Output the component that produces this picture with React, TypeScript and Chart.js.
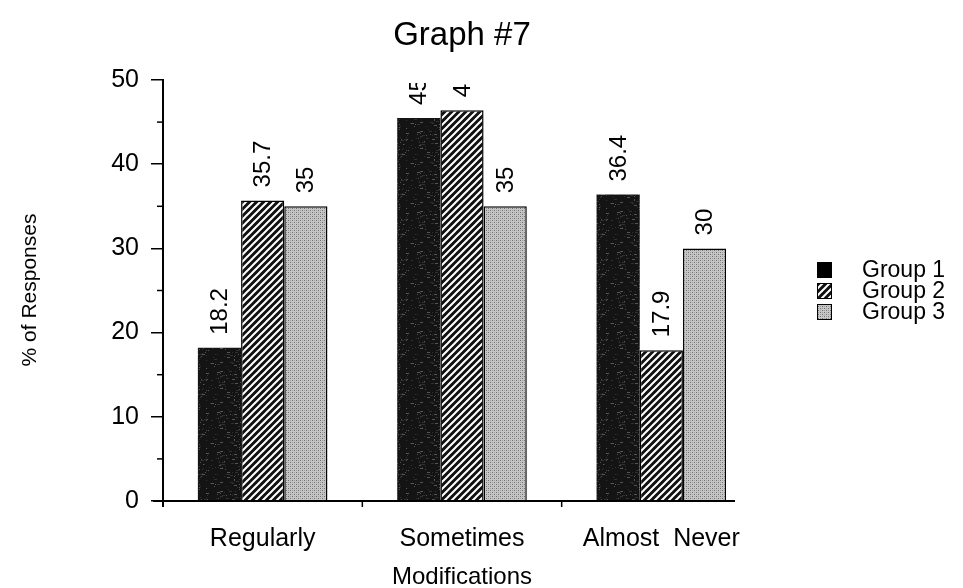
import React, { useEffect, useRef } from "react";
import { Chart, registerables } from "chart.js";

Chart.register(...registerables);

const FONT = "'Liberation Sans', Arial, Helvetica, sans-serif";

const chartTitle = "Graph #7";
const xAxisTitle = "Modifications";
const yAxisTitle = "% of Responses";
const categories = ["Regularly", "Sometimes", "Almost  Never"];
const seriesNames = ["Group 1", "Group 2", "Group 3"];
const group1 = [18.2, 45.5, 36.4];
const group2 = [35.7, 46.4, 17.9];
const group3 = [35, 35, 30];
const yTickValues = [0, 10, 20, 30, 40, 50];

// Fixed pseudo-random sequence for the speckled dark fill texture.
function lcg(seed: number) {
  let s = seed;
  return () => {
    s = (s * 1103515245 + 12345) & 0x7fffffff;
    return s / 0x7fffffff;
  };
}

function darkPattern(ctx: CanvasRenderingContext2D) {
  const c = document.createElement("canvas");
  c.width = 40;
  c.height = 40;
  const g = c.getContext("2d")!;
  g.fillStyle = "#141414";
  g.fillRect(0, 0, 40, 40);
  const rnd = lcg(11);
  for (let i = 0; i < 110; i++) {
    const x = Math.floor(rnd() * 40);
    const y = Math.floor(rnd() * 40);
    const w = rnd() < 0.3 ? 3 : 1;
    g.fillStyle = rnd() < 0.4 ? "#555" : "#303030";
    g.fillRect(x, y, w, 1);
  }
  return ctx.createPattern(c, "repeat")!;
}

function stripePattern(ctx: CanvasRenderingContext2D) {
  const n = 7;
  const c = document.createElement("canvas");
  c.width = n;
  c.height = n;
  const g = c.getContext("2d")!;
  g.fillStyle = "#111";
  g.fillRect(0, 0, n, n);
  g.strokeStyle = "#fff";
  g.lineWidth = 2;
  g.beginPath();
  g.moveTo(0, n);
  g.lineTo(n, 0);
  g.moveTo(-n / 2, n / 2);
  g.lineTo(n / 2, -n / 2);
  g.moveTo(n / 2, n + n / 2);
  g.lineTo(n + n / 2, n / 2);
  g.stroke();
  return ctx.createPattern(c, "repeat")!;
}

function stipplePattern(ctx: CanvasRenderingContext2D) {
  const c = document.createElement("canvas");
  c.width = 4;
  c.height = 4;
  const g = c.getContext("2d")!;
  g.fillStyle = "#c6c6c6";
  g.fillRect(0, 0, 4, 4);
  g.fillStyle = "#707070";
  g.fillRect(0, 0, 1, 1);
  g.fillRect(2, 2, 1, 1);
  g.fillStyle = "#a0a0a0";
  g.fillRect(2, 0, 1, 1);
  g.fillRect(0, 2, 1, 1);
  return ctx.createPattern(c, "repeat")!;
}

const decorations = {
  id: "decorations",
  afterDatasetsDraw(chart: any) {
    const { ctx, chartArea } = chart;
    // value labels, rotated, clipped just below the plot area top
    ctx.save();
    ctx.beginPath();
    ctx.rect(0, chartArea.top + 3, chart.width, chart.height - chartArea.top);
    ctx.clip();
    ctx.fillStyle = "#000";
    ctx.font = `24px ${FONT}`;
    ctx.textAlign = "left";
    ctx.textBaseline = "middle";
    chart.data.datasets.forEach((ds: any, di: number) => {
      const meta = chart.getDatasetMeta(di);
      meta.data.forEach((bar: any, i: number) => {
        ctx.save();
        ctx.translate(bar.x + 1, bar.y - 13);
        ctx.rotate(-Math.PI / 2);
        ctx.fillText(String(ds.data[i]), 0, 0);
        ctx.restore();
      });
    });
    ctx.restore();
  },
  afterDraw(chart: any) {
    const { ctx, chartArea } = chart;
    const yScale = chart.scales.y;
    const xScale = chart.scales.x;
    ctx.save();
    // x axis line (extends a little left of the y axis)
    ctx.strokeStyle = "#000";
    ctx.lineWidth = 2;
    ctx.beginPath();
    ctx.moveTo(chartArea.left - 10, chartArea.bottom);
    ctx.lineTo(chartArea.right - 26, chartArea.bottom);
    ctx.stroke();
    // y axis extends slightly below the x axis
    ctx.beginPath();
    ctx.moveTo(chartArea.left, chartArea.bottom);
    ctx.lineTo(chartArea.left, chartArea.bottom + 6);
    ctx.stroke();
    // category boundary ticks
    ctx.lineWidth = 1.5;
    for (let i = 1; i < categories.length; i++) {
      const x = (xScale.getPixelForValue(i - 1) + xScale.getPixelForValue(i)) / 2;
      ctx.beginPath();
      ctx.moveTo(x, chartArea.bottom);
      ctx.lineTo(x, chartArea.bottom + 6);
      ctx.stroke();
    }
    // minor ticks on the y axis
    for (let v = 5; v < 50; v += 10) {
      const y = yScale.getPixelForValue(v);
      ctx.beginPath();
      ctx.moveTo(chartArea.left - 6, y);
      ctx.lineTo(chartArea.left, y);
      ctx.stroke();
    }

    // title
    ctx.fillStyle = "#000";
    ctx.textAlign = "center";
    ctx.textBaseline = "middle";
    ctx.font = `33px ${FONT}`;
    ctx.fillText(chartTitle, (chartArea.left + chartArea.right) / 2, 36);

    // x axis title
    ctx.font = `24px ${FONT}`;
    ctx.fillText(xAxisTitle, (chartArea.left + chartArea.right) / 2, 577);

    // y axis title
    ctx.save();
    ctx.translate(30, 290);
    ctx.rotate(-Math.PI / 2);
    ctx.font = `21px ${FONT}`;
    ctx.fillText(yAxisTitle, 0, 0);
    ctx.restore();

    // legend
    const fills = chart.data.datasets.map((d: any) => d.backgroundColor);
    const legendX = chartArea.right + 56;
    const legendY = 270;
    ctx.font = `23px ${FONT}`;
    ctx.textAlign = "left";
    seriesNames.forEach((name, i) => {
      const cy = legendY + i * 21;
      ctx.fillStyle = i === 0 ? "#000" : fills[i];
      ctx.fillRect(legendX, cy - 8, 15, 16);
      ctx.strokeStyle = "#000";
      ctx.lineWidth = 1;
      ctx.strokeRect(legendX + 0.5, cy - 7.5, 14, 15);
      ctx.fillStyle = "#000";
      ctx.fillText(name, legendX + 45, cy + 1);
    });
    ctx.restore();
  },
};

export default function App() {
  const ref = useRef<HTMLCanvasElement | null>(null);

  useEffect(() => {
    const canvas = ref.current!;
    const ctx = canvas.getContext("2d")!;
    const fills = [darkPattern(ctx), stripePattern(ctx), stipplePattern(ctx)];
    const values = [group1, group2, group3];

    const chart = new Chart(canvas, {
      type: "bar",
      data: {
        labels: categories,
        datasets: seriesNames.map((name, i) => ({
          label: name,
          data: values[i],
          backgroundColor: fills[i] as any,
          borderColor: "#000",
          borderWidth: i === 0 ? 0 : 1.5,
          categoryPercentage: 0.65,
          barPercentage: 1,
        })),
      },
      options: {
        animation: false,
        responsive: false,
        maintainAspectRatio: false,
        events: [],
        layout: { padding: { top: 80, right: 202, bottom: 0, left: 0 } },
        plugins: {
          legend: { display: false },
          title: { display: false },
          tooltip: { enabled: false },
        },
        scales: {
          x: {
            type: "category",
            offset: true,
            border: { display: false },
            grid: { display: false },
            ticks: {
              color: "#000",
              font: { family: FONT, size: 25 },
              padding: 15,
              maxRotation: 0,
              autoSkip: false,
            },
            afterFit: (s: any) => {
              s.height = 87;
            },
          },
          y: {
            min: 0,
            max: 50,
            border: { display: true, color: "#000", width: 2 },
            grid: {
              display: true,
              drawOnChartArea: false,
              drawTicks: true,
              tickLength: 12,
              lineWidth: 1.5,
              color: (c: any) =>
                c.tick && yTickValues.includes(c.tick.value) ? "#000" : "rgba(0,0,0,0)",
            },
            ticks: {
              stepSize: 5,
              color: "#000",
              font: { family: FONT, size: 25 },
              padding: 12,
              callback: (v: any) => (yTickValues.includes(Number(v)) ? String(v) : ""),
            },
            afterFit: (s: any) => {
              s.width = 163;
            },
          },
        },
      },
      plugins: [decorations],
    });

    return () => chart.destroy();
  }, []);

  return (
    <div style={{ position: "fixed", left: 0, top: 0, width: 963, height: 588, background: "#fff" }}>
      <canvas ref={ref} width={963} height={588} style={{ display: "block" }} />
    </div>
  );
}
